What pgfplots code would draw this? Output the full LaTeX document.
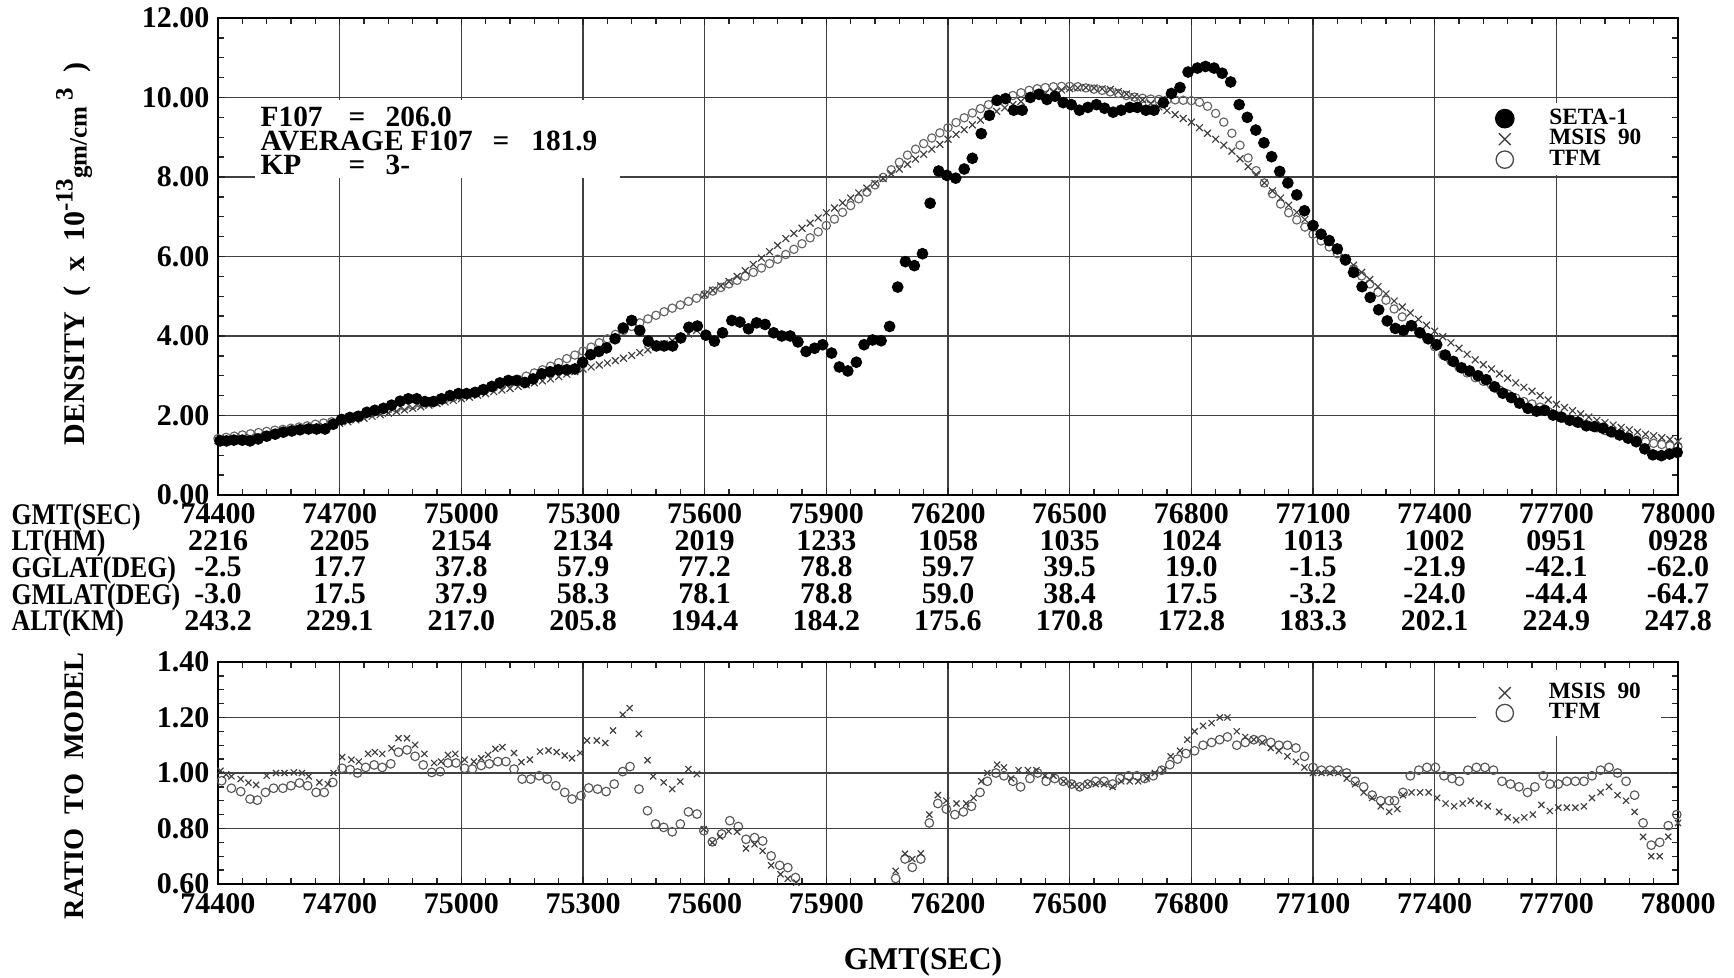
\documentclass[border=0pt]{standalone}
\usepackage{fontspec}
\setmainfont{Liberation Serif}
\newfontfamily\condensed{Liberation Serif}[FakeStretch=0.86]
\newcommand\tightlines{\lineskiplimit=-20pt\relax}
\usepackage{pgfplots}
\pgfplotsset{compat=1.18}
\begin{document}
\begin{tikzpicture}[x=1pt,y=1pt]
\path[use as bounding box] (0,0) rectangle (520.2,293.4);
\pgfplotsset{
  common/.style={
    scale only axis, width=438pt,
    xmin=74400, xmax=78000,
    xtick={74400,74700,75000,75300,75600,75900,76200,76500,76800,77100,77400,77700,78000},
    scaled x ticks=false, scaled y ticks=false,
    minor x tick num=4,
    tick align=inside,
    major tick length=2.2pt, minor tick length=1.8pt,
    grid=major,
    major grid style={black!75, line width=0.45pt},
    axis line style={line width=0.8pt},
    every tick/.style={black!85, line width=0.4pt},
    yticklabel style={font=\fontsize{9}{9}\selectfont\bfseries, anchor=east, inner sep=0pt, xshift=-2.4pt},
    legend image code/.code={\draw[##1] plot coordinates {(0pt,0pt)};},
    legend cell align=left,
  },
  tfm/.style={only marks, mark=o, mark size=1.25pt, color=black!60, mark options={line width=0.35pt}},
  msis/.style={only marks, mark=x, mark size=1.45pt, color=black!75, mark options={line width=0.35pt}},
  seta/.style={only marks, mark=*, mark size=1.55pt, color=black},
}
% ================= TOP AXIS =================
\begin{axis}[common,
  at={(65.4pt,144.9pt)}, anchor=south west, height=143.1pt,
  ymin=0, ymax=12,
  ytick={0,2,4,6,8,10,12},
  yticklabels={0.00,2.00,4.00,6.00,8.00,10.00,12.00},
  minor y tick num=3,
  xticklabels={{74400\\2216\\-2.5\\-3.0\\243.2},{74700\\2205\\17.7\\17.5\\229.1},{75000\\2154\\37.8\\37.9\\217.0},{75300\\2134\\57.9\\58.3\\205.8},{75600\\2019\\77.2\\78.1\\194.4},{75900\\1233\\78.8\\78.8\\184.2},{76200\\1058\\59.7\\59.0\\175.6},{76500\\1035\\39.5\\38.4\\170.8},{76800\\1024\\19.0\\17.5\\172.8},{77100\\1013\\-1.5\\-3.2\\183.3},{77400\\1002\\-21.9\\-24.0\\202.1},{77700\\0951\\-42.1\\-44.4\\224.9},{78000\\0928\\-62.0\\-64.7\\247.8}},
  xticklabel style={align=center, anchor=north, inner sep=0pt, yshift=-2.35pt, font=\fontsize{9}{8}\selectfont\bfseries},
  legend style={draw=none, fill=white, at={(0.925,0.746)}, anchor=center, inner xsep=3pt, inner ysep=1.5pt,
    font=\fontsize{7}{7}\selectfont\bfseries, nodes={inner sep=0pt, text height=4.8pt, text depth=1.35pt},
    /tikz/every odd column/.append style={column sep=10.6pt}, row sep=0pt},
]
% TFM
\addplot[tfm, forget plot] coordinates {
(74400,1.42)(74420,1.45)(74440,1.48)(74460,1.51)(74480,1.54)(74500,1.57)(74520,1.60)(74540,1.63)(74560,1.65)(74580,1.68)
(74600,1.71)(74620,1.74)(74640,1.78)(74660,1.81)(74680,1.84)(74700,1.88)(74720,1.93)(74740,1.98)(74760,2.02)(74780,2.07)
(74800,2.12)(74820,2.16)(74840,2.19)(74860,2.23)(74880,2.26)(74900,2.30)(74920,2.34)(74940,2.38)(74960,2.42)(74980,2.46)
(75000,2.50)(75020,2.55)(75040,2.60)(75060,2.66)(75080,2.71)(75100,2.77)(75120,2.84)(75140,2.91)(75160,2.99)(75180,3.07)
(75200,3.15)(75220,3.24)(75240,3.33)(75260,3.43)(75280,3.52)(75300,3.62)(75320,3.72)(75340,3.83)(75360,3.93)(75380,4.04)
(75400,4.14)(75420,4.24)(75440,4.33)(75460,4.43)(75480,4.52)(75500,4.61)(75520,4.70)(75540,4.78)(75560,4.87)(75580,4.95)
(75600,5.04)(75620,5.13)(75640,5.22)(75660,5.31)(75680,5.40)(75700,5.50)(75720,5.60)(75740,5.71)(75760,5.82)(75780,5.93)
(75800,6.05)(75820,6.18)(75840,6.32)(75860,6.47)(75880,6.62)(75900,6.78)(75920,6.94)(75940,7.11)(75960,7.28)(75980,7.45)
(76000,7.62)(76020,7.80)(76040,7.99)(76060,8.18)(76080,8.37)(76100,8.55)(76120,8.70)(76140,8.84)(76160,8.98)(76180,9.11)
(76200,9.24)(76220,9.37)(76240,9.49)(76260,9.61)(76280,9.72)(76300,9.82)(76320,9.90)(76340,9.98)(76360,10.05)(76380,10.12)
(76400,10.18)(76420,10.22)(76440,10.25)(76460,10.27)(76480,10.28)(76500,10.28)(76520,10.27)(76540,10.24)(76560,10.21)(76580,10.18)
(76600,10.14)(76620,10.10)(76640,10.05)(76660,10.01)(76680,9.98)(76700,9.96)(76720,9.95)(76740,9.94)(76760,9.94)(76780,9.93)
(76800,9.92)(76820,9.88)(76840,9.78)(76860,9.60)(76880,9.38)(76900,9.10)(76920,8.80)(76940,8.48)(76960,8.16)(76980,7.85)
(77000,7.58)(77020,7.32)(77040,7.10)(77060,6.92)(77080,6.74)(77100,6.56)(77120,6.39)(77140,6.24)(77160,6.07)(77180,5.88)
(77200,5.69)(77220,5.51)(77240,5.31)(77260,5.10)(77280,4.90)(77300,4.68)(77320,4.48)(77340,4.28)(77360,4.11)(77380,3.95)
(77400,3.73)(77420,3.53)(77440,3.37)(77460,3.21)(77480,3.07)(77500,2.95)(77520,2.86)(77540,2.77)(77560,2.64)(77580,2.54)
(77600,2.44)(77620,2.35)(77640,2.29)(77660,2.21)(77680,2.10)(77700,2.00)(77720,1.93)(77740,1.87)(77760,1.81)(77780,1.75)
(77800,1.69)(77820,1.62)(77840,1.56)(77860,1.50)(77880,1.42)(77900,1.38)(77920,1.34)(77940,1.30)(77960,1.27)(77980,1.24)
(78000,1.21)};
% MSIS 90
\addplot[msis, forget plot] coordinates {
(74400,1.37)(74420,1.39)(74440,1.41)(74460,1.43)(74480,1.45)(74500,1.48)(74520,1.51)(74540,1.54)(74560,1.57)(74580,1.60)
(74600,1.63)(74620,1.66)(74640,1.69)(74660,1.73)(74680,1.76)(74700,1.80)(74720,1.84)(74740,1.89)(74760,1.93)(74780,1.98)
(74800,2.02)(74820,2.06)(74840,2.10)(74860,2.14)(74880,2.18)(74900,2.22)(74920,2.26)(74940,2.30)(74960,2.34)(74980,2.38)
(75000,2.42)(75020,2.46)(75040,2.51)(75060,2.55)(75080,2.60)(75100,2.64)(75120,2.68)(75140,2.73)(75160,2.77)(75180,2.82)
(75200,2.87)(75220,2.92)(75240,2.98)(75260,3.04)(75280,3.10)(75300,3.17)(75320,3.22)(75340,3.27)(75360,3.32)(75380,3.38)
(75400,3.44)(75420,3.51)(75440,3.58)(75460,3.65)(75480,3.73)(75500,3.80)(75520,3.88)(75540,3.96)(75560,4.05)(75580,4.14)
(75600,5.04)(75620,5.15)(75640,5.26)(75660,5.37)(75680,5.50)(75700,5.64)(75720,5.80)(75740,5.96)(75760,6.12)(75780,6.28)
(75800,6.45)(75820,6.58)(75840,6.71)(75860,6.84)(75880,6.97)(75900,7.10)(75920,7.22)(75940,7.35)(75960,7.47)(75980,7.60)
(76000,7.72)(76020,7.84)(76040,7.96)(76060,8.08)(76080,8.20)(76100,8.32)(76120,8.45)(76140,8.57)(76160,8.70)(76180,8.82)
(76200,8.95)(76220,9.07)(76240,9.19)(76260,9.31)(76280,9.43)(76300,9.55)(76320,9.65)(76340,9.74)(76360,9.82)(76380,9.90)
(76400,9.98)(76420,10.04)(76440,10.10)(76460,10.15)(76480,10.19)(76500,10.22)(76520,10.24)(76540,10.25)(76560,10.24)(76580,10.22)
(76600,10.20)(76620,10.15)(76640,10.09)(76660,10.02)(76680,9.94)(76700,9.85)(76720,9.76)(76740,9.67)(76760,9.57)(76780,9.47)
(76800,9.38)(76820,9.24)(76840,9.10)(76860,8.95)(76880,8.80)(76900,8.65)(76920,8.46)(76940,8.26)(76960,8.06)(76980,7.85)
(77000,7.65)(77020,7.47)(77040,7.29)(77060,7.11)(77080,6.93)(77100,6.75)(77120,6.55)(77140,6.36)(77160,6.16)(77180,5.97)
(77200,5.78)(77220,5.60)(77240,5.42)(77260,5.24)(77280,5.06)(77300,4.88)(77320,4.73)(77340,4.58)(77360,4.42)(77380,4.27)
(77400,4.12)(77420,3.98)(77440,3.83)(77460,3.69)(77480,3.54)(77500,3.40)(77520,3.28)(77540,3.17)(77560,3.05)(77580,2.94)
(77600,2.82)(77620,2.71)(77640,2.61)(77660,2.50)(77680,2.39)(77700,2.28)(77720,2.20)(77740,2.12)(77760,2.04)(77780,1.96)
(77800,1.88)(77820,1.82)(77840,1.76)(77860,1.70)(77880,1.64)(77900,1.58)(77920,1.53)(77940,1.49)(77960,1.44)(77980,1.40)
(78000,1.35)};
% SETA-1
\addplot[seta, forget plot] coordinates {
(74405,1.36)(74421,1.36)(74439,1.38)(74460,1.38)(74479,1.36)(74499,1.41)(74520,1.48)(74541,1.53)(74561,1.58)(74582,1.61)
(74602,1.64)(74623,1.66)(74643,1.66)(74664,1.66)(74684,1.78)(74705,1.90)(74725,1.95)(74746,1.98)(74767,2.08)(74787,2.13)
(74808,2.18)(74828,2.26)(74849,2.36)(74869,2.42)(74890,2.42)(74910,2.35)(74931,2.35)(74951,2.42)(74972,2.50)(74993,2.55)
(75013,2.55)(75034,2.58)(75054,2.65)(75075,2.73)(75095,2.82)(75116,2.88)(75136,2.88)(75157,2.83)(75177,2.92)(75198,3.05)
(75219,3.10)(75239,3.15)(75260,3.15)(75280,3.17)(75299,3.34)(75319,3.53)(75339,3.61)(75358,3.70)(75379,3.93)(75399,4.20)
(75420,4.39)(75440,4.14)(75461,3.87)(75481,3.75)(75500,3.75)(75521,3.75)(75541,3.95)(75561,4.22)(75582,4.25)(75603,4.02)
(75624,3.87)(75644,4.08)(75667,4.39)(75687,4.35)(75708,4.18)(75728,4.33)(75749,4.29)(75770,4.08)(75790,4.00)(75811,4.00)
(75830,3.85)(75850,3.61)(75871,3.69)(75891,3.78)(75913,3.57)(75932,3.22)(75953,3.12)(75974,3.34)(75993,3.78)(76014,3.90)
(76035,3.88)(76056,4.24)(76076,5.23)(76095,5.87)(76117,5.77)(76137,6.07)(76156,7.34)(76177,8.15)(76197,8.04)(76219,7.97)
(76240,8.20)(76260,8.47)(76282,9.09)(76302,9.55)(76321,9.93)(76342,9.97)(76362,9.68)(76383,9.68)(76403,10.00)(76424,10.08)
(76444,9.95)(76464,10.03)(76484,9.87)(76504,9.82)(76524,9.68)(76545,9.75)(76566,9.82)(76586,9.73)(76607,9.63)(76627,9.68)
(76648,9.75)(76667,9.75)(76688,9.68)(76708,9.68)(76731,9.87)(76751,10.10)(76772,10.25)(76792,10.64)(76815,10.74)(76835,10.78)
(76856,10.74)(76876,10.61)(76897,10.39)(76918,9.82)(76938,9.50)(76959,9.18)(76979,8.86)(76998,8.51)(77018,8.14)(77038,7.85)
(77060,7.55)(77079,7.15)(77100,6.78)(77120,6.56)(77140,6.40)(77160,6.19)(77180,5.92)(77200,5.60)(77221,5.24)(77241,4.97)
(77262,4.66)(77283,4.38)(77303,4.19)(77323,4.14)(77343,4.26)(77364,4.08)(77384,3.93)(77405,3.78)(77426,3.52)(77446,3.36)
(77466,3.20)(77486,3.12)(77507,3.00)(77527,2.90)(77548,2.72)(77568,2.56)(77589,2.45)(77609,2.31)(77630,2.18)(77651,2.11)
(77671,2.13)(77692,2.01)(77712,1.96)(77733,1.88)(77753,1.83)(77774,1.74)(77794,1.72)(77815,1.68)(77835,1.59)(77856,1.51)
(77877,1.43)(77897,1.34)(77918,1.16)(77938,1.01)(77959,0.99)(77979,1.03)(77998,1.07)};
\addlegendimage{only marks, mark=*, mark size=2.75pt, black}
\addlegendentry{SETA-1}
\addlegendimage{only marks, mark=x, mark size=2.5pt, black!75, mark options={line width=0.4pt}}
\addlegendentry{MSIS\ \ 90}
\addlegendimage{only marks, mark=o, mark size=2.6pt, black!70, mark options={line width=0.4pt}}
\addlegendentry{TFM}
\end{axis}
% ================= BOTTOM AXIS =================
\begin{axis}[common,
  at={(65.4pt,28.2pt)}, anchor=south west, height=66.6pt,
  ymin=0.6, ymax=1.4,
  ytick={0.6,0.8,1.0,1.2,1.4},
  yticklabels={0.60,0.80,1.00,1.20,1.40},
  minor y tick num=3,
  xticklabels={74400,74700,75000,75300,75600,75900,76200,76500,76800,77100,77400,77700,78000},
  xticklabel style={anchor=north, inner sep=0pt, yshift=-2.65pt, font=\fontsize{9}{9}\selectfont\bfseries},
  legend style={draw=none, fill=white, at={(0.925,0.815)}, anchor=center, inner xsep=6pt, inner ysep=4pt,
    font=\fontsize{7}{7}\selectfont\bfseries, nodes={inner sep=0pt, text height=4.7pt, text depth=1.3pt},
    /tikz/every odd column/.append style={column sep=10.6pt}, row sep=0pt},
]
% TFM ratio
\addplot[tfm, mark size=1.3pt, color=black!65, forget plot] coordinates {
(74409,0.972)(74433,0.945)(74456,0.933)(74479,0.906)(74497,0.902)(74517,0.930)(74537,0.945)(74560,0.945)(74580,0.954)(74601,0.964)
(74621,0.954)(74642,0.930)(74662,0.930)(74683,0.966)(74706,1.017)(74726,1.012)(74744,1.000)(74764,1.020)(74785,1.029)(74805,1.020)
(74826,1.033)(74845,1.075)(74866,1.083)(74886,1.060)(74906,1.029)(74927,1.002)(74948,1.005)(74967,1.036)(74987,1.036)(75008,1.017)
(75027,1.014)(75049,1.027)(75069,1.033)(75090,1.041)(75110,1.041)(75130,1.014)(75150,0.978)(75171,0.978)(75192,0.990)(75212,0.978)
(75233,0.954)(75255,0.930)(75273,0.906)(75295,0.918)(75314,0.946)(75336,0.942)(75357,0.933)(75377,0.960)(75398,1.005)(75416,1.023)
(75438,0.942)(75459,0.864)(75479,0.816)(75499,0.804)(75520,0.788)(75540,0.816)(75560,0.860)(75581,0.852)(75598,0.792)(75619,0.752)
(75642,0.780)(75662,0.828)(75683,0.807)(75702,0.761)(75723,0.767)(75743,0.755)(75764,0.701)(75785,0.667)(75805,0.659)(75824,0.623)
(76071,0.62)(76094,0.69)(76112,0.66)(76133,0.69)(76154,0.82)(76175,0.89)(76196,0.87)(76217,0.85)(76238,0.86)(76258,0.88)
(76279,0.93)(76297,0.97)(76318,1.00)(76338,0.99)(76360,0.97)(76379,0.95)(76402,0.98)(76421,1.00)(76442,0.97)(76463,0.98)
(76484,0.97)(76505,0.96)(76525,0.95)(76544,0.96)(76564,0.97)(76585,0.97)(76606,0.96)(76624,0.98)(76645,0.99)(76666,0.99)
(76685,0.98)(76706,0.99)(76727,1.01)(76747,1.03)(76766,1.05)(76787,1.07)(76808,1.08)(76829,1.10)(76850,1.11)(76870,1.12)
(76889,1.13)(76912,1.10)(76933,1.11)(76954,1.12)(76975,1.12)(76996,1.11)(77016,1.10)(77037,1.10)(77058,1.09)(77079,1.06)
(77100,1.02)(77121,1.01)(77142,1.01)(77162,1.01)(77183,1.00)(77204,0.97)(77225,0.95)(77246,0.92)(77267,0.90)(77288,0.90)
(77301,0.90)(77322,0.93)(77340,0.99)(77361,1.01)(77381,1.02)(77402,1.02)(77423,0.99)(77443,0.98)(77461,0.97)(77482,1.01)
(77503,1.02)(77524,1.02)(77545,1.01)(77566,0.97)(77587,0.96)(77608,0.95)(77629,0.93)(77647,0.95)(77668,0.99)(77684,0.96)
(77705,0.96)(77726,0.97)(77747,0.97)(77768,0.97)(77788,0.99)(77809,1.01)(77830,1.02)(77851,1.00)(77872,0.97)(77893,0.92)
(77914,0.82)(77934,0.74)(77955,0.75)(77976,0.81)(77997,0.85)};
% MSIS ratio
\addplot[msis, mark size=1.3pt, color=black!75, forget plot] coordinates {
(74406,1.008)(74420,0.995)(74433,0.988)(74456,0.978)(74475,0.965)(74494,0.957)(74520,0.990)(74543,1.000)(74564,1.000)(74587,1.002)
(74607,1.000)(74624,0.988)(74650,0.966)(74671,0.960)(74685,1.000)(74706,1.057)(74729,1.048)(74747,1.041)(74770,1.069)(74787,1.075)
(74805,1.069)(74828,1.089)(74845,1.125)(74866,1.125)(74886,1.101)(74909,1.069)(74933,1.036)(74950,1.041)(74967,1.065)(74985,1.069)
(75008,1.048)(75031,1.041)(75049,1.053)(75066,1.065)(75084,1.087)(75101,1.093)(75130,1.072)(75148,1.039)(75169,1.048)(75194,1.077)
(75215,1.081)(75235,1.075)(75255,1.063)(75273,1.053)(75293,1.072)(75310,1.117)(75334,1.117)(75355,1.108)(75374,1.153)(75398,1.210)
(75415,1.234)(75438,1.141)(75459,1.046)(75473,0.988)(75499,0.966)(75520,0.942)(75540,0.969)(75560,1.014)(75581,0.996)(75598,0.798)
(75619,0.749)(75638,0.771)(75659,0.790)(75680,0.788)(75702,0.728)(75723,0.743)(75743,0.719)(75764,0.667)(75787,0.635)(75805,0.619)
(75826,0.605)
(76071,0.647)(76094,0.709)(76112,0.69)(76133,0.71)(76154,0.85)(76175,0.92)(76196,0.90)(76221,0.89)(76245,0.89)(76263,0.91)
(76282,0.97)(76297,1.00)(76321,1.03)(76338,1.02)(76356,0.98)(76374,1.01)(76397,1.01)(76418,1.01)(76439,0.99)(76460,0.99)
(76485,0.97)(76506,0.96)(76523,0.95)(76544,0.96)(76564,0.96)(76585,0.96)(76606,0.95)(76627,0.97)(76648,0.97)(76669,0.97)
(76690,0.98)(76710,1.00)(76731,1.01)(76749,1.06)(76772,1.08)(76790,1.12)(76808,1.15)(76829,1.17)(76850,1.18)(76870,1.20)
(76889,1.20)(76912,1.15)(76933,1.13)(76954,1.12)(76975,1.11)(76996,1.09)(77016,1.08)(77037,1.06)(77058,1.04)(77079,1.02)
(77100,1.00)(77121,1.00)(77142,1.00)(77162,1.00)(77183,0.98)(77204,0.96)(77225,0.93)(77246,0.91)(77267,0.88)(77288,0.86)
(77308,0.87)(77322,0.92)(77343,0.93)(77364,0.93)(77385,0.93)(77406,0.91)(77427,0.89)(77448,0.88)(77469,0.89)(77489,0.90)
(77510,0.89)(77531,0.88)(77559,0.86)(77580,0.84)(77601,0.83)(77621,0.84)(77642,0.85)(77663,0.885)(77684,0.863)(77705,0.875)
(77726,0.875)(77747,0.875)(77768,0.88)(77788,0.91)(77809,0.93)(77830,0.95)(77851,0.92)(77872,0.90)(77893,0.86)(77914,0.77)
(77934,0.70)(77955,0.70)(77976,0.77)(78000,0.82)};
\addlegendimage{only marks, mark=x, mark size=2.5pt, black!75, mark options={line width=0.4pt}}
\addlegendentry{MSIS\ \ 90}
\addlegendimage{only marks, mark=o, mark size=2.6pt, black!70, mark options={line width=0.4pt}}
\addlegendentry{TFM}
\end{axis}
% ================= TEXT =================
\fill[white] (76.5,239.9) rectangle (186,263.3);
\begin{scope}[every node/.style={inner sep=0pt, anchor=base west, font=\fontsize{8.8}{8.8}\selectfont\bfseries}]
\node at (78,255.5) {F107};
\node at (104.4,255.5) {=};
\node at (115.5,255.5) {206.0};
\node at (78,248.3) {AVERAGE\ F107};
\node at (147.6,248.3) {=};
\node at (159.2,248.3) {181.9};
\node at (78,241.1) {KP};
\node at (104.4,241.1) {=};
\node at (115.5,241.1) {3-};
\end{scope}
\node[anchor=north west, align=left, inner sep=0pt, font=\condensed\fontsize{9}{8}\selectfont\bfseries\tightlines] at (3.3,142.55)
  {GMT(SEC)\\LT(HM)\\GGLAT(DEG)\\GMLAT(DEG)\\ALT(KM)};
\node[rotate=90, anchor=center, inner sep=0pt, font=\fontsize{9}{9}\selectfont\bfseries] at (22.2,217.2)
  {DENSITY\ \ (\ \ x\ \ 10\raisebox{3.6pt}{\fontsize{7.5}{7.5}\selectfont -13}\raisebox{-0.6pt}{\fontsize{7.5}{7.5}\selectfont gm/cm}\raisebox{3.6pt}{\fontsize{7.5}{7.5}\selectfont\ 3}\ \ )};
\node[rotate=90, anchor=center, inner sep=0pt, font=\fontsize{8.5}{8.5}\selectfont\bfseries] at (22.2,57.6)
  {RATIO\ \ TO\ \ MODEL};
\node[anchor=center, inner sep=0pt, font=\fontsize{9.5}{9.5}\selectfont\bfseries] at (276.9,4.8) {GMT(SEC)};
\end{tikzpicture}
\end{document}
